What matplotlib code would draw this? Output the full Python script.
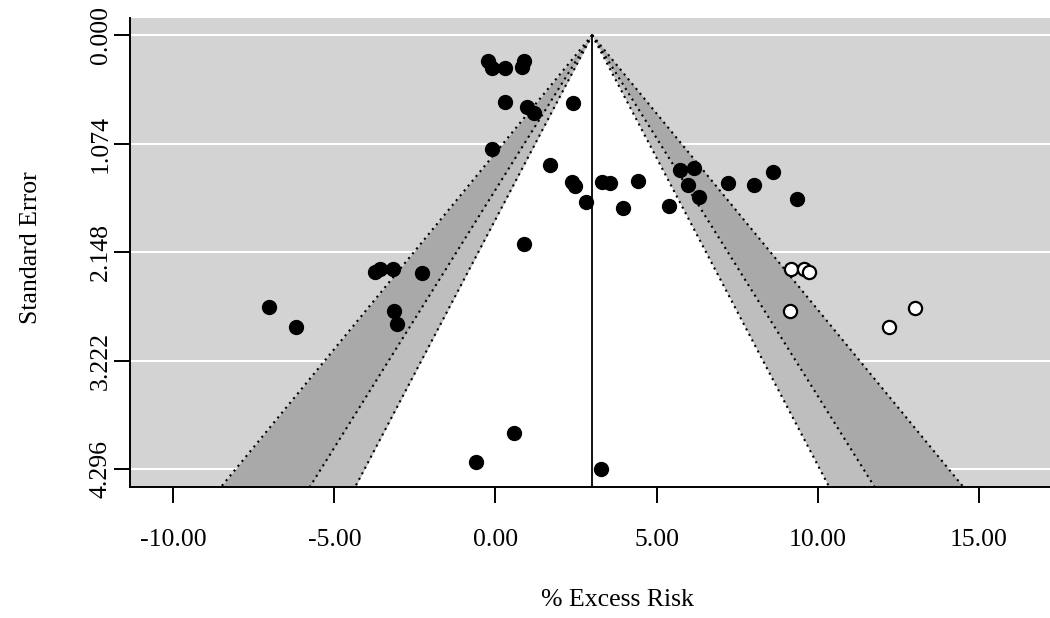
import numpy as np
import matplotlib
matplotlib.use("Agg")
import matplotlib.pyplot as plt

plt.rcParams["font.family"] = ["Liberation Serif", "DejaVu Serif"]

# observed studies: effect (% excess risk) and standard error
effect = [-0.23, -0.12, 0.29, 0.89, 0.81, 0.31, 0.98, 1.20, 2.39, -0.12,
          1.69, 2.36, 2.46, 2.81, 3.32, 3.55, 3.96, 4.42, 5.38, 5.72,
          6.17, 5.98, 6.32, 7.22, 8.02, 8.60, 9.37, 0.89, -7.03, -6.20,
          -3.74, -3.59, -3.19, -2.27, -3.15, -3.04, 0.58, -0.59, 3.26]
se = [0.254, 0.329, 0.329, 0.254, 0.314, 0.660, 0.709, 0.769, 0.670, 1.128,
      1.286, 1.451, 1.491, 1.655, 1.457, 1.467, 1.708, 1.441, 1.691, 1.335,
      1.318, 1.484, 1.605, 1.461, 1.484, 1.355, 1.622, 2.070, 2.693, 2.885,
      2.341, 2.317, 2.315, 2.351, 2.730, 2.862, 3.934, 4.226, 4.296]

# studies added by trim-and-fill
fill_effect = [9.17, 9.57, 9.72, 9.13, 13.01, 12.21]
fill_se = [2.315, 2.312, 2.347, 2.730, 2.697, 2.891]

pooled = 3.0
levels_z = [1.645, 1.960, 2.576]   # 90%, 95%, 99%
se_ticks = [0.000, 1.074, 2.148, 3.222, 4.296]
x_ticks = [-10, -5, 0, 5, 10, 15]

fig = plt.figure(figsize=(10.5, 6.18), dpi=100)
ax = fig.add_axes([130.3 / 1050, (618 - 486.7) / 618,
                   (1104 - 130.3) / 1050, (486.7 - 17.7) / 618])
ax.set_facecolor("#d3d3d3")
ax.set_xlim(-11.33, 18.88)
ax.set_ylim(4.468, -0.172)

# white reference lines at the y ticks
for t in se_ticks:
    ax.axhline(t, color="white", lw=1.5, zorder=1)

# contour regions
s = np.linspace(0, 4.7, 200)
z1, z2, z3 = levels_z
ax.fill_betweenx(s, pooled - z1 * s, pooled + z1 * s, color="white", lw=0, zorder=2)
for a, b, col in [(z1, z2, "#bebebe"), (z2, z3, "#a9a9a9")]:
    ax.fill_betweenx(s, pooled - b * s, pooled - a * s, color=col, lw=0, zorder=2)
    ax.fill_betweenx(s, pooled + a * s, pooled + b * s, color=col, lw=0, zorder=2)
for z in levels_z:
    ax.plot(pooled - z * s, s, color="black", lw=1.5, ls=(0, (1, 2)), zorder=3)
    ax.plot(pooled + z * s, s, color="black", lw=1.5, ls=(0, (1, 2)), zorder=3)
ax.plot([pooled, pooled], [0, 4.7], color="black", lw=1.3, zorder=3)

ax.plot(effect, se, "o", ms=10, color="black", mec="black", zorder=4)
ax.plot(fill_effect, fill_se, "o", ms=9.5, mfc="white", mec="black", mew=1.6, zorder=4)

for side in ["top", "right"]:
    ax.spines[side].set_visible(False)
for side in ["left", "bottom"]:
    ax.spines[side].set_linewidth(1.4)

ax.set_xticks(x_ticks)
ax.set_xticklabels([f"{v:.2f}" for v in x_ticks])
ax.set_yticks(se_ticks)
ax.set_yticklabels([f"{v:.3f}" for v in se_ticks], rotation=90, va="center")
ax.tick_params(axis="both", direction="out", length=11.5, width=1.4, labelsize=18.5)
ax.tick_params(axis="x", pad=19)
ax.tick_params(axis="y", pad=2)

fig.text(617 / 1050, 1 - 600 / 618, "% Excess Risk", fontsize=18.5,
         ha="center", va="center")
fig.text(31 / 1050, 1 - 248 / 618, "Standard Error", fontsize=18.5,
         ha="center", va="center", rotation=90)

fig.savefig("out.png", dpi=100)
